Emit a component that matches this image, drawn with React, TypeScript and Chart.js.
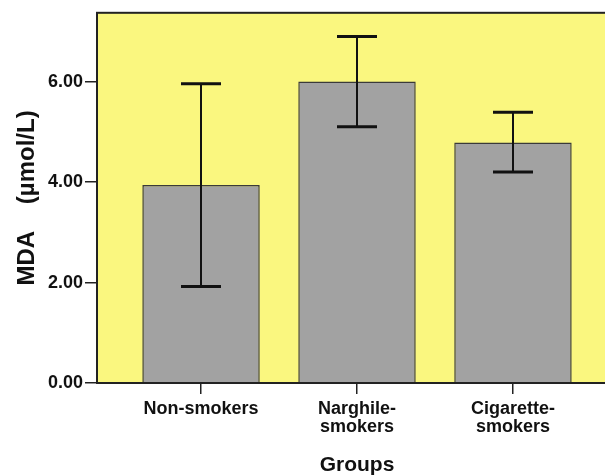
import React, { useEffect, useRef } from "react";
import { Chart, registerables } from "chart.js";

Chart.register(...registerables);

const categories = ["Non-smokers", "Narghile-smokers", "Cigarette-smokers"];
const tickLabels = [["Non-smokers"], ["Narghile-", "smokers"], ["Cigarette-", "smokers"]];
const meanValues = [3.94, 6.0, 4.79];
const errorLow = [1.92, 5.1, 4.2];
const errorHigh = [5.96, 6.9, 5.39];
const yTicks = [0, 2, 4, 6];
const yMax = 7.37;
const yTitle = "MDA    (µmol/L)";
const xTitle = "Groups";

const FONT = "'Liberation Sans', Arial, sans-serif";

export default function App() {
  const ref = useRef<HTMLCanvasElement>(null);

  useEffect(() => {
    if (!ref.current) return;
    const plotPlugin = {
      id: "plotDecor",
      beforeDraw(chart: any) {
        const { ctx, chartArea: a } = chart;
        ctx.save();
        ctx.fillStyle = "#FAF77F";
        ctx.fillRect(a.left, a.top, a.right - a.left, a.bottom - a.top);
        ctx.restore();
      },
      afterDatasetsDraw(chart: any) {
        const { ctx, chartArea: a, scales } = chart;
        const xs = scales.x;
        const ys = scales.y;
        ctx.save();
        ctx.strokeStyle = "#111";
        errorLow.forEach((lo: number, i: number) => {
          const px = Math.round(xs.getPixelForValue(i));
          const yl = ys.getPixelForValue(lo);
          const yh = ys.getPixelForValue(errorHigh[i]);
          ctx.lineWidth = 2;
          ctx.beginPath();
          ctx.moveTo(px, yl);
          ctx.lineTo(px, yh);
          ctx.stroke();
          ctx.lineWidth = 3;
          ctx.beginPath();
          ctx.moveTo(px - 20, yl);
          ctx.lineTo(px + 20, yl);
          ctx.moveTo(px - 20, yh);
          ctx.lineTo(px + 20, yh);
          ctx.stroke();
        });
        ctx.lineWidth = 2;
        ctx.strokeStyle = "#222";
        ctx.strokeRect(a.left, a.top, a.right - a.left, a.bottom - a.top);
        ctx.restore();
      },
    };

    const chart = new Chart(ref.current, {
      type: "bar",
      data: {
        datasets: [
          {
            label: "MDA",
            data: meanValues.map((v, i) => ({ x: i, y: v })),
            backgroundColor: "#A2A2A2",
            borderColor: "#3A3A3A",
            borderWidth: 1.5,
            categoryPercentage: 1,
            barPercentage: 0.753,
          },
        ],
      },
      options: {
        responsive: false,
        animation: false,
        devicePixelRatio: 1,
        layout: { padding: { top: 11, right: 8, left: 0, bottom: 0 } },
        plugins: {
          legend: { display: false },
          tooltip: { enabled: false },
        },
        scales: {
          x: {
            type: "linear",
            offset: false,
            min: -0.667,
            max: 2.667,
            afterBuildTicks: (s: any) => {
              s.ticks = categories.map((_, i) => ({ value: i }));
            },
            afterFit: (s: any) => {
              s.height = 93;
            },
            ticks: {
              callback: (v: any) => tickLabels[Math.round(Number(v))] ?? "",
              color: "#111",
              font: { family: FONT, size: 18, weight: "bold", lineHeight: 1.0 },
              padding: 6,
              maxRotation: 0,
              autoSkip: false,
            },
            grid: { offset: false, drawOnChartArea: false, tickLength: 11, color: "#222", lineWidth: 1.5 },
            border: { display: false },
            title: {
              display: true,
              text: xTitle,
              color: "#111",
              font: { family: FONT, size: 21, weight: "bold", lineHeight: 1.0 },
              padding: { top: 0, bottom: 0 },
            },
          },
          y: {
            min: 0,
            max: yMax,
            afterBuildTicks: (s: any) => {
              s.ticks = yTicks.map((v) => ({ value: v }));
            },
            afterFit: (s: any) => {
              s.width = 97;
            },
            ticks: {
              callback: (v: any) => Number(v).toFixed(2),
              color: "#111",
              font: { family: FONT, size: 18, weight: "bold" },
              padding: 2,
            },
            grid: { drawOnChartArea: false, tickLength: 12, color: "#222", lineWidth: 1.5 },
            border: { display: false },
            title: {
              display: true,
              text: yTitle,
              color: "#111",
              font: { family: FONT, size: 24, weight: "bold", lineHeight: 1.0 },
              padding: { top: 15, bottom: 0 },
            },
          },
        },
      },
      plugins: [plotPlugin],
    } as any);
    return () => chart.destroy();
  }, []);

  return (
    <div
      style={{
        position: "fixed",
        left: 0,
        top: 0,
        width: 605,
        height: 476,
        overflow: "hidden",
        background: "#fff",
      }}
    >
      <canvas ref={ref} width={625} height={476} style={{ display: "block" }} />
    </div>
  );
}
